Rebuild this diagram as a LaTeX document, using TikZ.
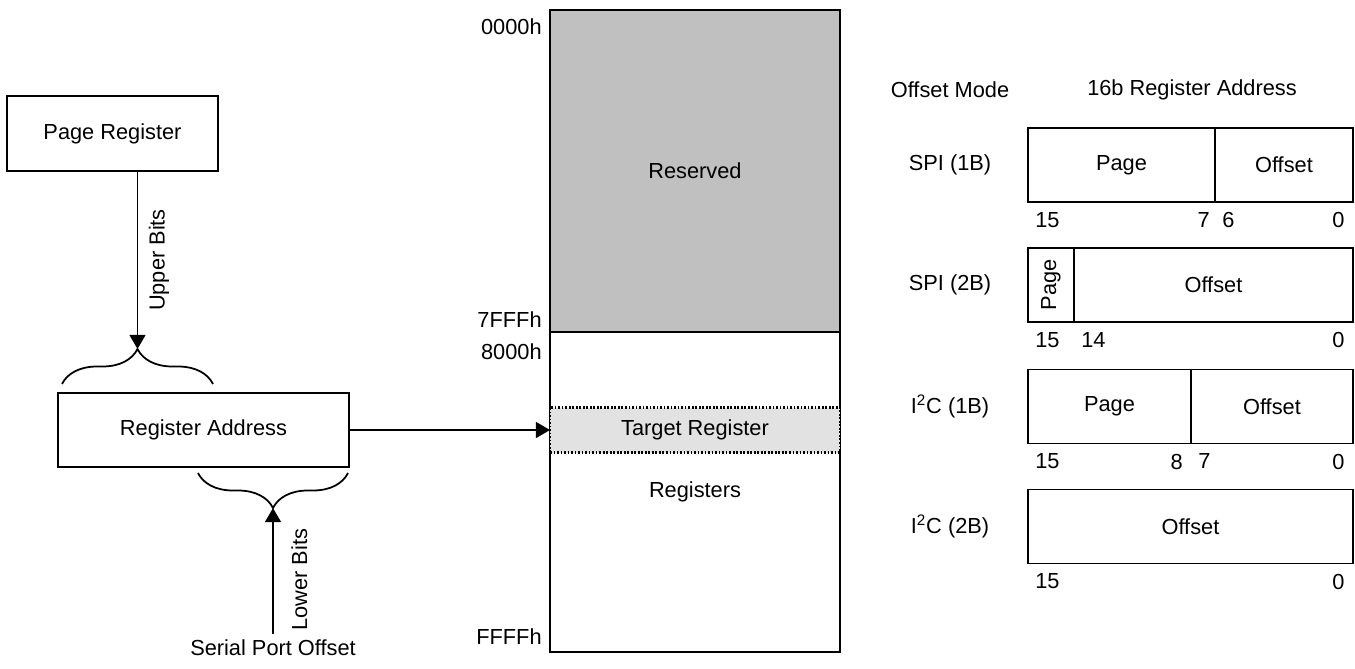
\documentclass[tikz,border=0pt]{standalone}
\usepackage{fontspec}
\setmainfont{Liberation Sans}
\usepackage{tikz}
\usetikzlibrary{positioning,arrows.meta,decorations.pathreplacing}
\definecolor{resgray}{RGB}{192,192,192}
\definecolor{tgtgray}{RGB}{226,226,226}
\tikzset{
    >={Triangle[length=8pt,width=9pt]},
    box/.style={
        rectangle,
        draw, line width=1pt,
        outer sep=0pt,
        text centered
    },
    field/.style={box, minimum height=1.48cm},
    memblock/.style={box, minimum width=5.8cm},
    line/.style={draw, line width=1pt, ->},
    sidelabel/.style={rotate=90, anchor=north, inner sep=6pt},
    bitnum/.style={inner sep=0pt},
    addrlabel/.style={anchor=east, inner sep=0pt},
    decoration={brace, amplitude=0.7cm},
    tuborg/.style={decorate, line width=1pt},
    font={\fontsize{12.4pt}{14pt}\selectfont},
}

\begin{document}
\begin{tikzpicture}[x=0.02cm, y=-0.02cm]
    \useasboundingbox (0,0) rectangle (1355,669);

    % address forming
    \node[box, minimum width=4.22cm, minimum height=1.5cm] (pagereg) at (112.5,133.5) {Page Register};
    \node[box, minimum width=5.82cm, minimum height=1.48cm] (regaddr) at (203.5,430) {Register Address};
    \node (serial) at (273,648) {Serial Port Offset};

    \draw[tuborg] (62,384) -- (213,384);
    \draw[tuborg] (348,473) -- (198,473);
    \coordinate (uptip) at (137.5,349);
    \coordinate (lowtip) at (273,508);

    \draw[line] (pagereg.south -| uptip) -- node[sidelabel]{Upper Bits} (uptip);
    \draw[line] (serial) -- node[sidelabel, pos=0.43, inner sep=10pt]{Lower Bits} (lowtip);

    % memory map
    \node[memblock, fill=resgray, minimum height=6.44cm] (reserved) at (695,171) {Reserved};
    \node[memblock, minimum height=6.4cm, below=0pt of reserved] (registers) {Registers};
    \node[memblock, minimum height=0.9cm, fill=tgtgray, densely dotted, line width=1.4pt] (target) at (695,430) {Target Register};

    \node[addrlabel] (a0000) at (542,27) {0000h};
    \node[addrlabel] (a7fff) at (542,320) {7FFFh};
    \node[addrlabel] (a8000) at (542,352) {8000h};
    \node[addrlabel] (affff) at (542,637) {FFFFh};

    \draw[line] (regaddr) -- (target);

    % offset modes
    \node (modehead) at (950,90) {Offset Mode};
    \node (addrhead) at (1192,90) {16b Register Address};

    \node (spi1) at (950,165) {SPI (1B)};
    \node[field, minimum width=3.74cm, anchor=west] (spi1page) at (1028,165) {Page};
    \node[field, minimum width=2.76cm, right=0pt of spi1page] (spi1off) {Offset};
    \node[bitnum, below right=0.2cm and 0.14cm of spi1page.south west] (spi1b15) {15};
    \node[bitnum, below left=0.2cm and 0.1cm of spi1page.south east] (spi1b7) {7};
    \node[bitnum, below right=0.2cm and 0.14cm of spi1off.south west] (spi1b6) {6};
    \node[bitnum, below left=0.2cm and 0.16cm of spi1off.south east] (spi1b0) {0};

    \node (spi2) at (950,285) {SPI (2B)};
    \node[field, minimum width=0.92cm, anchor=west] (spi2page) at (1028,285) {};
    \node[rotate=90] (spi2pagetxt) at (spi2page.center) {Page};
    \node[field, minimum width=5.58cm, right=0pt of spi2page] (spi2off) {Offset};
    \node[bitnum, below right=0.2cm and 0.14cm of spi2page.south west] (spi2b15) {15};
    \node[bitnum, below right=0.2cm and 0.14cm of spi2off.south west] (spi2b14) {14};
    \node[bitnum, below left=0.2cm and 0.16cm of spi2off.south east] (spi2b0) {0};

    \node (i2c1) at (950,406.5) {I\textsuperscript{2}C (1B)};
    \node[field, minimum width=3.26cm, anchor=west] (i2c1page) at (1028,406.5) {Page};
    \node[field, minimum width=3.24cm, right=0pt of i2c1page] (i2c1off) {Offset};
    \node[bitnum, below right=0.2cm and 0.14cm of i2c1page.south west] (i2c1b15) {15};
    \node[bitnum, below left=0.2cm and 0.16cm of i2c1page.south east] (i2c1b8) {8};
    \node[bitnum, below right=0.2cm and 0.14cm of i2c1off.south west] (i2c1b7) {7};
    \node[bitnum, below left=0.2cm and 0.16cm of i2c1off.south east] (i2c1b0) {0};

    \node (i2c2) at (950,526.5) {I\textsuperscript{2}C (2B)};
    \node[field, minimum width=6.5cm, anchor=west] (i2c2off) at (1028,526.5) {Offset};
    \node[bitnum, below right=0.2cm and 0.14cm of i2c2off.south west] (i2c2b15) {15};
    \node[bitnum, below left=0.2cm and 0.16cm of i2c2off.south east] (i2c2b0) {0};
\end{tikzpicture}
\end{document}
